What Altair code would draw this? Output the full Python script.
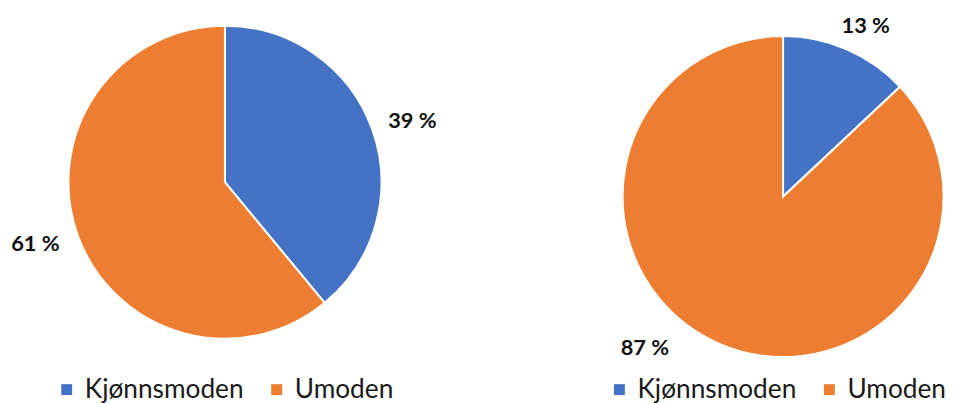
import altair as alt
import pandas as pd

categories = ["Kjønnsmoden", "Umoden"]
left_values = [39, 61]
right_values = [13, 87]
left_labels = ["39 %", "61 %"]
right_labels = ["13 %", "87 %"]
colors = ["#4472C4", "#ED7D31"]


def panel(values, labels, w, cx, cy, r, lr, legend_x, offsets):
    df = pd.DataFrame({"cat": categories, "val": values, "label": labels, "ord": [0, 1]})
    arc = alt.Chart(df).mark_arc(radius=r, stroke="white", strokeWidth=2).encode(
        theta=alt.Theta("val:Q", stack=True),
        order=alt.Order("ord:Q"),
        x=alt.value(cx),
        y=alt.value(cy),
        color=alt.Color(
            "cat:N",
            scale=alt.Scale(domain=categories, range=colors),
            legend=alt.Legend(
                title=None,
                orient="none",
                direction="horizontal",
                legendX=legend_x,
                legendY=370,
                symbolType="square",
                symbolSize=121,
                symbolStrokeWidth=0,
                labelFont="Lato",
                labelFontSize=26.5,
                labelColor="#1a1a1a",
                labelOffset=5,
                columnPadding=20,
                labelLimit=300,
            ),
        ),
    )
    stacked = (
        alt.Chart(df)
        .transform_window(cum="sum(val)", sort=[alt.SortField("ord")])
        .transform_calculate(mid="datum.cum - datum.val / 2")
    )
    layers = [arc]
    for lab, (dx, dy) in zip(labels, offsets):
        layers.append(
            stacked.transform_filter(alt.datum.label == lab)
            .mark_text(radius=lr, font="Lato", fontWeight="bold", fontSize=22,
                       color="#111111", align="center", baseline="middle", dx=dx, dy=dy)
            .encode(
                theta=alt.Theta("mid:Q", stack=None, scale=alt.Scale(domain=[0, 100])),
                x=alt.value(cx),
                y=alt.value(cy),
                text="label:N",
            )
        )
    return alt.layer(*layers).resolve_scale(theta="independent").properties(width=w, height=387)


left = panel(left_values, left_labels, 465, 219, 174, 158, 198, 46, [(3, 5), (-5, -5)])
right = panel(right_values, right_labels, 475, 317.5, 188.5, 162, 190, 139, [(8, 2), (-64, -21)])

chart = (
    alt.hconcat(left, right, spacing=0)
    .resolve_scale(color="independent")
    .resolve_legend(color="independent")
    .properties(padding=0)
    .configure_view(strokeWidth=0)
)

chart.save("out.html", embed_options={"renderer": "svg", "actions": False})
